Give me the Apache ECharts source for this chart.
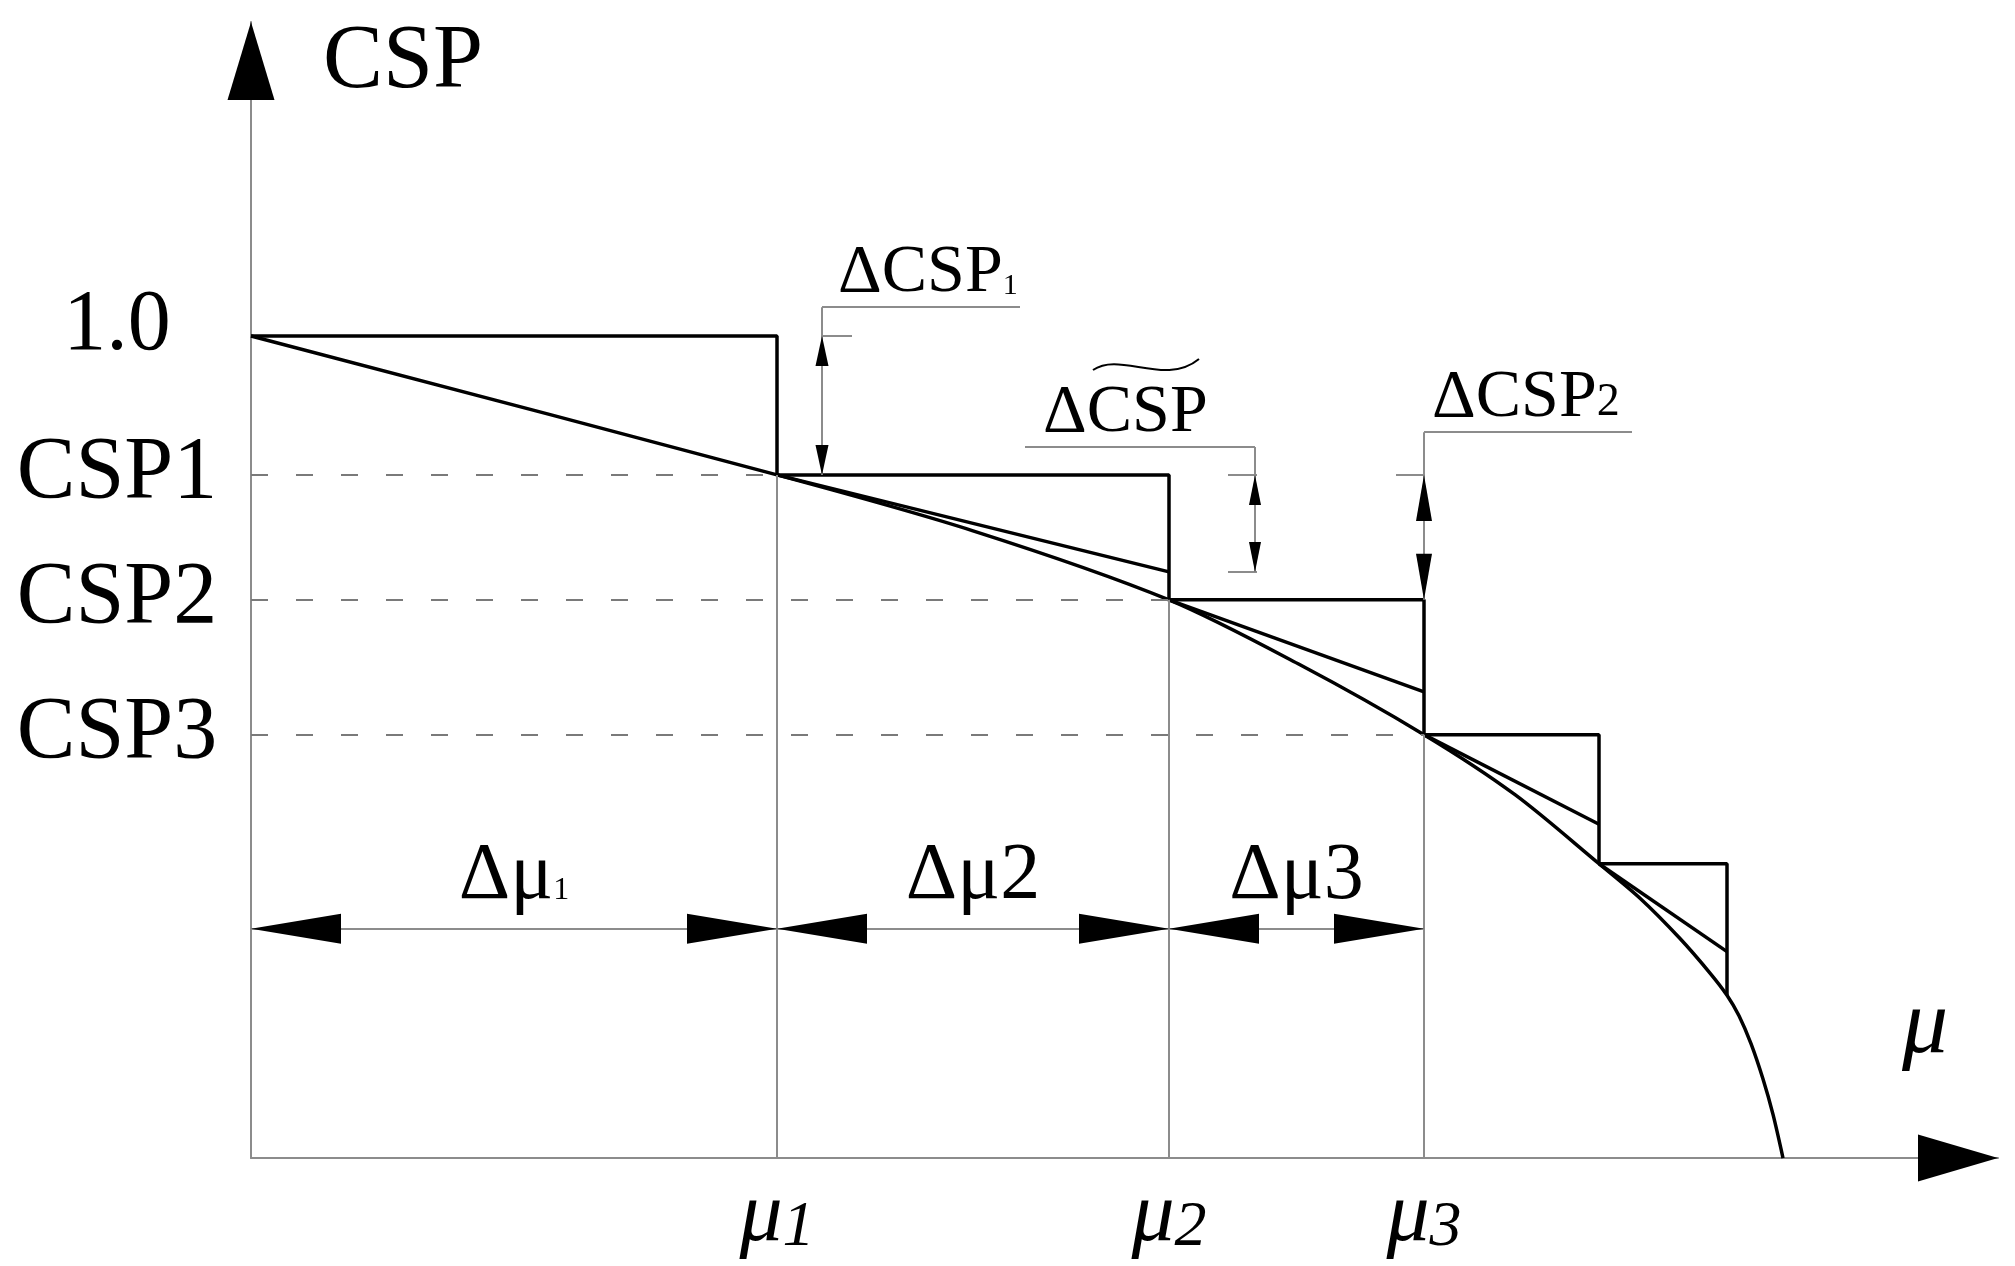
<!DOCTYPE html>
<html>
<head>
<meta charset="utf-8">
<title>CSP step approximation</title>
<script src="https://cdn.jsdelivr.net/npm/echarts@6/dist/echarts.min.js"></script>
<style>
  html, body { margin: 0; padding: 0; background: #fff; }
  #chart { width: 2015px; height: 1266px; }
</style>
</head>
<body>
<div id="chart"></div>
<script>
// marked steps on the μ axis and the CSP levels on the left
const muTicks = [5.26, 9.18, 11.73]
const muSubs = ['1', '2', '3']
const cspTicks = [1.0, 0.831, 0.679, 0.515]
const cspLabels = ['1.0', 'CSP1', 'CSP2', 'CSP3']

// staircase corners, drawn with step: 'end'
const stepMu = [0, 5.26, 9.18, 11.73, 13.48, 14.76]
const stepCsp = [1.0, 0.831, 0.679, 0.515, 0.358, 0.198]

// tangent from each corner, value where it meets the next step
const tangentEnd = [0.713, 0.567, 0.406, 0.251]

// CSP(μ) curve
const curveMu = [0, 5.26, 7.22, 9.18, 10.49, 11.73, 12.64, 13.48, 13.89, 14.29, 14.59, 14.76, 14.88, 15.0, 15.12, 15.22, 15.32]
const curveCsp = [1.0, 0.831, 0.763, 0.679, 0.600, 0.515, 0.442, 0.358, 0.316, 0.267, 0.225, 0.198, 0.173, 0.139, 0.096, 0.053, 0]

// Δμ dimension line
const dimCsp = 0.279
const dimFrom = [0, 5.26, 9.18]
const dimTo = [5.26, 9.18, 11.73]
const dimSubs = ['1', '2', '3']

// ΔCSP dimensions: vertical leader x, arrow tips, underline
const dCspX = [5.71, 10.04, 11.73]
const dCspHigh = [1.0, 0.831, 0.831]
const dCspLow = [0.831, 0.713, 0.679]
const dCspTop = [1.035, 0.865, 0.883]
const dCspLineFrom = [5.71, 7.74, 11.73]
const dCspLineTo = [7.69, 10.04, 13.81]
const extCsp = [1.0, 0.831, 0.713, 0.831]
const extFrom = [5.71, 9.77, 9.77, 11.45]
const extTo = [6.01, 10.06, 10.06, 11.74]

const X_MAX = 17.47
const Y_MAX = 1.382

const FONT = 'Liberation Serif'
const GRAY = '#8c8c8c'
const INK = '#000'

const chart = echarts.init(document.getElementById('chart'))

const seg = (x1, y1, x2, y2, style) => [{ coord: [x1, y1], lineStyle: style }, { coord: [x2, y2] }]
const thin = { color: GRAY, width: 2, type: 'solid' }
const dashed = { color: '#7a7a7a', width: 2, type: [17, 28] }

const guides = []
cspTicks.slice(1).forEach((c, i) => guides.push(seg(0, c, muTicks[i], c, dashed)))
muTicks.forEach((m, i) => guides.push(seg(m, 0, m, cspTicks[i + 1], thin)))
guides.push(seg(0, dimCsp, dimTo[dimTo.length - 1], dimCsp, thin))
dCspX.forEach((x, i) => {
  guides.push(seg(x, dCspTop[i], x, dCspLow[i], thin))
  guides.push(seg(dCspLineFrom[i], dCspTop[i], dCspLineTo[i], dCspTop[i], thin))
})
extCsp.forEach((c, i) => guides.push(seg(extFrom[i], c, extTo[i], c, thin)))

// arrow heads: tip sits on the data point
const arrow = (x, y, dir, w, len) => {
  const rot = { up: 0, down: 180, left: 90, right: -90 }[dir]
  const off = { up: [0, len / 2], down: [0, -len / 2], left: [len / 2, 0], right: [-len / 2, 0] }[dir]
  return { value: [x, y], symbolRotate: rot, symbolOffset: off, symbolSize: [w, len] }
}
const arrows = [
  arrow(0, Y_MAX, 'up', 47, 78),
  arrow(X_MAX, 0, 'right', 47, 80)
]
dimFrom.forEach((a, i) => {
  arrows.push(arrow(a, dimCsp, 'left', 30, 90))
  arrows.push(arrow(dimTo[i], dimCsp, 'right', 30, 90))
})
const dArrow = [[13, 30], [12, 30], [16, 46]]
dCspX.forEach((x, i) => {
  arrows.push(arrow(x, dCspHigh[i], 'up', dArrow[i][0], dArrow[i][1]))
  arrows.push(arrow(x, dCspLow[i], 'down', dArrow[i][0], dArrow[i][1]))
})

const bigRich = {
  a: { fontFamily: FONT, fontSize: 80, color: INK },
  s: { fontFamily: FONT, fontSize: 32, color: INK, verticalAlign: 'bottom', padding: [0, 0, 10, 0] }
}
const smallRich = {
  a: { fontFamily: FONT, fontSize: 68, color: INK },
  s: { fontFamily: FONT, fontSize: 30, color: INK, verticalAlign: 'bottom', padding: [0, 0, 6, 0] },
  m: { fontFamily: FONT, fontSize: 46, color: INK, verticalAlign: 'bottom', padding: [0, 0, 6, 0] }
}

const dimLabels = dimFrom.map((a, i) => ({
  value: [(a + dimTo[i]) / 2, dimCsp],
  label: {
    show: true, position: 'top', distance: 12, rich: bigRich,
    formatter: i === 0 ? '{a|Δμ}{s|' + dimSubs[i] + '}' : '{a|Δμ' + dimSubs[i] + '}'
  }
}))
const dCspText = ['{a|ΔCSP}{s|1}', '{a|ΔCSP}', '{a|ΔCSP}{m|2}']
const dCspShift = [16, 18, 8]
const dCspLabels = dCspX.map((x, i) => ({
  value: [dCspLineFrom[i], dCspTop[i]],
  label: {
    show: true, position: [dCspShift[i], 0], align: 'left', verticalAlign: 'bottom',
    rich: smallRich, formatter: dCspText[i]
  }
}))

const option = {
  animation: false,
  backgroundColor: '#fff',
  textStyle: { fontFamily: FONT },
  grid: { left: 251, right: 17, top: 22, bottom: 108, containLabel: false, outerBoundsMode: 'none' },
  xAxis: {
    type: 'value', min: 0, max: X_MAX,
    name: 'μ', nameLocation: 'end', nameGap: -96,
    nameTextStyle: { fontFamily: FONT, fontStyle: 'italic', fontSize: 92, color: INK, align: 'left', verticalAlign: 'bottom', padding: [0, 0, 84, 0] },
    axisLine: { lineStyle: { color: GRAY, width: 2 } },
    axisTick: { show: false },
    splitLine: { show: false },
    axisLabel: {
      customValues: muTicks,
      margin: 16,
      formatter: v => '{m|μ}{s|' + muSubs[muTicks.indexOf(v)] + '}',
      rich: {
        m: { fontFamily: FONT, fontStyle: 'italic', fontSize: 86, color: INK },
        s: { fontFamily: FONT, fontStyle: 'italic', fontSize: 64, color: INK, verticalAlign: 'bottom', padding: [18, 0, 0, 0] }
      }
    }
  },
  yAxis: {
    type: 'value', min: 0, max: Y_MAX,
    name: 'CSP', nameLocation: 'end', nameGap: -86,
    nameTextStyle: { fontFamily: FONT, fontSize: 90, color: INK, align: 'left', verticalAlign: 'bottom', padding: [0, 0, 0, 72] },
    axisLine: { lineStyle: { color: GRAY, width: 2 } },
    axisTick: { show: false },
    splitLine: { show: false },
    axisLabel: {
      customValues: cspTicks,
      margin: 134,
      align: 'center',
      formatter: v => {
        const t = cspLabels[cspTicks.indexOf(v)]
        return v === 1 ? '{one|' + t + '}' : '{c|' + t + '}'
      },
      rich: {
        one: { fontFamily: FONT, fontSize: 86, color: INK, padding: [0, 0, 20, 0] },
        c: { fontFamily: FONT, fontSize: 88, color: INK, padding: [0, 0, 2, 0] }
      }
    }
  },
  series: [
    {
      name: 'curve', type: 'line', data: curveMu.map((m, i) => [m, curveCsp[i]]),
      smooth: 0.3, showSymbol: false, lineStyle: { color: INK, width: 3.5 },
      markLine: { silent: true, symbol: 'none', label: { show: false }, data: guides }
    },
    {
      name: 'steps', type: 'line', step: 'end', data: stepMu.map((m, i) => [m, stepCsp[i]]),
      showSymbol: false, lineStyle: { color: INK, width: 3.5 }
    },
    ...tangentEnd.map((e, i) => ({
      name: 'tangent' + (i + 1), type: 'line',
      data: [[stepMu[i + 1], stepCsp[i + 1]], [stepMu[i + 2], e]],
      showSymbol: false, lineStyle: { color: INK, width: 3.5 }
    })),
    {
      name: 'arrows', type: 'scatter', symbol: 'triangle', data: arrows,
      itemStyle: { color: INK, opacity: 1 }, z: 5
    },
    {
      name: 'notes', type: 'scatter', symbolSize: 0, data: [...dimLabels, ...dCspLabels],
      itemStyle: { color: 'rgba(0,0,0,0)', opacity: 1 },
      label: { color: INK, opacity: 1 }
    }
  ]
}

chart.setOption(option)

// tilde over the middle ΔCSP label
const p = chart.convertToPixel({ gridIndex: 0 }, [dCspLineFrom[1], dCspTop[1]])
chart.setOption({
  graphic: [{
    type: 'bezierCurve', silent: true,
    shape: { x1: p[0] + 68, y1: p[1] - 77, cpx1: p[0] + 95, cpy1: p[1] - 96, cpx2: p[0] + 140, cpy2: p[1] - 60, x2: p[0] + 174, y2: p[1] - 88 },
    style: { stroke: INK, lineWidth: 2, fill: null }
  }]
})
</script>
</body>
</html>
